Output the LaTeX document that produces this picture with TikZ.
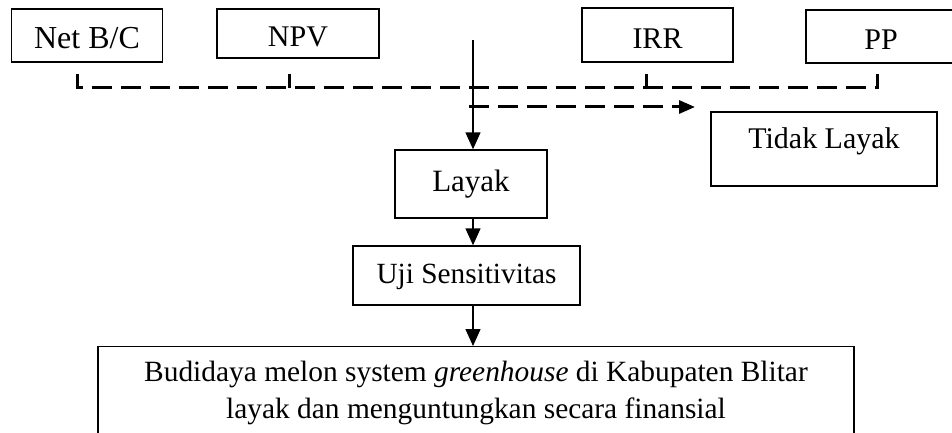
\documentclass[tikz,border=0pt]{standalone}
\usepackage{fontspec}
\setmainfont{Liberation Serif}
\usetikzlibrary{arrows.meta}

\tikzset{
	kotak/.style={draw, line width=1.4pt, inner sep=0pt, text height=22pt, text depth=7pt},
	kotak atas/.style={kotak, text height=27pt, text depth=0pt},
	panah/.style={line width=1.4pt, -{Triangle[length=17pt,width=15pt]}},
	putus/.style={line width=3pt, dash pattern=on 20pt off 9pt},
}

\begin{document}
\begin{tikzpicture}[x=1pt, y=-1pt, font=\fontsize{30}{37}\selectfont]
		\useasboundingbox (0,0) rectangle (952,433);

		% kriteria investasi
		\node[kotak atas, minimum width=151pt, minimum height=53pt] (netbc) at (87,35.5) {\fontsize{32}{37}\selectfont Net B/C};
		\node[kotak atas, minimum width=162pt, minimum height=49pt] (npv) at (298,33.5) {NPV};
		\node[kotak atas, minimum width=151pt, minimum height=54pt] (irr) at (657.5,35) {IRR};
		\node[kotak atas, minimum width=150pt, minimum height=53pt] (pp) at (881,36.5) {PP};

		% hasil
		\node[kotak, minimum width=152pt, minimum height=68pt] (layak) at (471,184) {\fontsize{31}{37}\selectfont Layak};
		\node[kotak, minimum width=226pt, text height=36pt, text depth=38pt] (tidak) at (824,149) {Tidak Layak};
		\node[kotak, minimum width=227pt, minimum height=59pt] (uji) at (466.5,275.5) {\fontsize{29.3}{37}\selectfont Uji Sensitivitas};
		\node[draw, line width=1.4pt, inner sep=0pt, minimum width=756pt, minimum height=92pt, align=center, anchor=north,
			font=\fontsize{29.4}{37}\selectfont] (hasil) at (476,346)
			{Budidaya melon system \textit{greenhouse} di Kabupaten Blitar\\ layak dan menguntungkan secara finansial};

		% garis putus-putus
		\coordinate (atas) at (473,40);
		\coordinate (kiri) at (77,88);
		\coordinate (kanan) at (877,88);
		\draw[putus] (kiri |- 0,74) -- (kiri) -- (kanan) -- (kanan |- 0,74);
		\draw[line width=3pt] (289,74) -- (289,88);
		\draw[line width=3pt] (646,74) -- (646,88);
		\draw[putus, -{Triangle[length=16pt,width=13pt]}] (469,107) -- (695,107);

		% panah utama
		\draw[panah] (atas) -- (atas |- layak.north);
		\draw[panah] (atas |- layak.south) -- (atas |- uji.north);
		\draw[panah] (atas |- uji.south) -- (atas |- hasil.north);
	\end{tikzpicture}
\end{document}
